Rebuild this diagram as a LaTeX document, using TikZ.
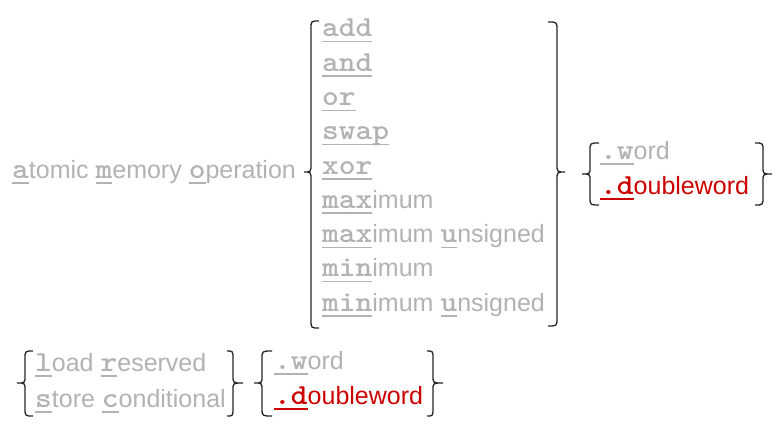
\documentclass[tikz,border=0pt]{standalone}
\usepackage{fontspec}
\setmainfont{Liberation Sans}
\newfontfamily\monofam[Extension=.otf,FakeStretch=1.1]{lmmonolt10-bold}
\definecolor{lg}{RGB}{178,178,178}
\definecolor{rd}{RGB}{204,0,0}
\newcommand\mo[1]{\setbox0\hbox{\fontsize{29}{30}\monofam #1}\rlap{\rule[-5.5pt]{\wd0}{1.4pt}}\box0}
% brace: line x, top, middle, bottom, hook, tip, middle curve extent
\newcommand\braceL[7]{\draw[bracestyle] (#1+#5,#2) .. controls (#1,#2) .. (#1,#2+8) -- (#1,#3-#7) .. controls (#1,#3) .. (#1-#6,#3) .. controls (#1,#3) .. (#1,#3+#7) -- (#1,#4-8) .. controls (#1,#4) .. (#1+#5,#4);}
\newcommand\braceR[7]{\draw[bracestyle] (#1-#5,#2) .. controls (#1,#2) .. (#1,#2+8) -- (#1,#3-#7) .. controls (#1,#3) .. (#1+#6,#3) .. controls (#1,#3) .. (#1,#3+#7) -- (#1,#4-8) .. controls (#1,#4) .. (#1-#5,#4);}
\begin{document}
\begin{tikzpicture}[x=1pt,y=-1pt,
  bracestyle/.style={line width=1.3pt,black!85},
  lbl/.style={anchor=base west,inner sep=0pt,text=lg,font=\fontsize{25}{30}\selectfont},
  rlbl/.style={lbl,text=rd}]
\useasboundingbox (0,0) rectangle (783,433);
\node[lbl] (amo) at (12,178) {\mo{a}tomic \mo{m}emory \mo{o}peration};
\braceL{311}{21}{172}{328}{8}{7}{8}
\node[lbl] (add) at (322,37) {\mo{add}};
\node[lbl] (and) at (322,71.25) {\mo{and}};
\node[lbl] (or) at (322,105.5) {\mo{or}};
\node[lbl] (swap) at (322,139.75) {\mo{swap}};
\node[lbl] (xor) at (322,174) {\mo{xor}};
\node[lbl] (max) at (322,208.25) {\mo{max}imum};
\node[lbl] (maxu) at (322,242.5) {\mo{max}imum \mo{u}nsigned};
\node[lbl] (min) at (322,276.75) {\mo{min}imum};
\node[lbl] (minu) at (322,311) {\mo{min}imum \mo{u}nsigned};
\braceR{557}{22}{172}{326}{9}{8}{8}
\braceL{590}{143}{174}{205}{9}{8}{7}
\node[lbl] (w1) at (600,159) {\mo{.w}ord};
\node[rlbl] (d1) at (600,194) {\mo{.d}oubleword};
\braceR{763}{143}{174}{205}{8}{9}{7}
\braceL{25}{351}{383}{416}{8}{8}{7}
\node[lbl] (lr) at (35,371) {\mo{l}oad \mo{r}eserved};
\node[lbl] (sc) at (35,407) {\mo{s}tore \mo{c}onditional};
\braceR{233}{351}{383}{416}{6}{10}{7}
\braceL{262}{351}{383}{416}{10}{8}{7}
\node[lbl] (w2) at (274,369) {\mo{.w}ord};
\node[rlbl] (d2) at (274,404) {\mo{.d}oubleword};
\braceR{433}{351}{383}{416}{6}{10}{7}
\end{tikzpicture}
\end{document}
